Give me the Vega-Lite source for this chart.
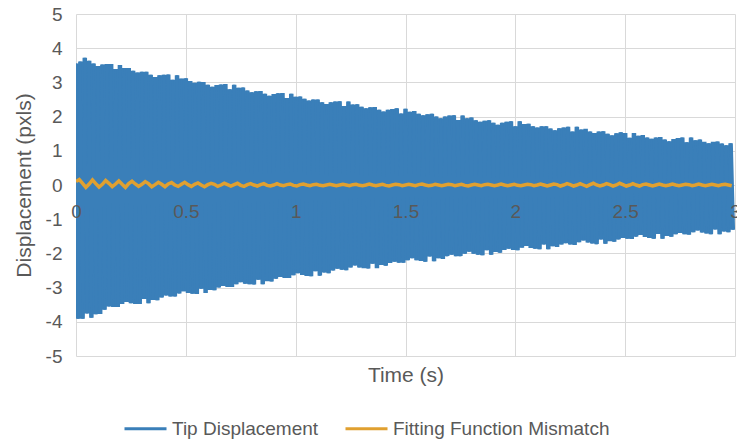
{
"$schema": "https://vega.github.io/schema/vega-lite/v6.json",
"width": 659, "height": 342,
"autosize": "none",
"padding": {"left": 76, "top": 14, "right": 2, "bottom": 87},
"background": "white",
"config": {
 "view": {"stroke": null},
 "font": "Liberation Sans",
 "axis": {"gridColor": "#d9d9d9", "gridWidth": 1, "domain": false, "ticks": false, "labelColor": "#595959", "titleColor": "#595959", "labelFont": "Liberation Sans", "titleFont": "Liberation Sans", "labelFontSize": 19, "titleFontSize": 21, "titleFontWeight": "normal", "labelFlush": false, "labelOverlap": false},
 "legend": {"orient": "none", "legendX": 47, "legendY": 392, "direction": "horizontal", "symbolType": "stroke", "symbolSize": 1764, "symbolStrokeWidth": 3, "labelFont": "Liberation Sans", "labelFontSize": 19, "labelColor": "#595959", "labelLimit": 400, "columnPadding": 20, "labelOffset": 4, "title": null}
},
"datasets": {
"tip": [
{"t":0,"y":3.55},{"t":0.01,"y":-3.91},{"t":0.02,"y":3.61},{"t":0.03,"y":-3.91},{"t":0.04,"y":3.72},{"t":0.05,"y":-3.76},{"t":0.06,"y":3.63},{"t":0.07,"y":-3.88},{"t":0.08,"y":3.55},{"t":0.09,"y":-3.78},
{"t":0.1,"y":3.48},{"t":0.11,"y":-3.77},{"t":0.12,"y":3.52},{"t":0.13,"y":-3.65},{"t":0.14,"y":3.54},{"t":0.15,"y":-3.55},{"t":0.16,"y":3.54},{"t":0.17,"y":-3.57},{"t":0.18,"y":3.39},{"t":0.19,"y":-3.57},
{"t":0.2,"y":3.51},{"t":0.21,"y":-3.48},{"t":0.22,"y":3.42},{"t":0.23,"y":-3.42},{"t":0.24,"y":3.42},{"t":0.25,"y":-3.46},{"t":0.26,"y":3.34},{"t":0.27,"y":-3.48},{"t":0.28,"y":3.29},{"t":0.29,"y":-3.48},
{"t":0.3,"y":3.31},{"t":0.31,"y":-3.33},{"t":0.32,"y":3.31},{"t":0.33,"y":-3.46},{"t":0.34,"y":3.22},{"t":0.35,"y":-3.36},{"t":0.36,"y":3.16},{"t":0.37,"y":-3.37},{"t":0.38,"y":3.21},{"t":0.39,"y":-3.29},
{"t":0.4,"y":3.22},{"t":0.41,"y":-3.23},{"t":0.42,"y":3.23},{"t":0.43,"y":-3.26},{"t":0.44,"y":3.08},{"t":0.45,"y":-3.26},{"t":0.46,"y":3.21},{"t":0.47,"y":-3.17},{"t":0.48,"y":3.11},{"t":0.49,"y":-3.11},
{"t":0.5,"y":3.12},{"t":0.51,"y":-3.16},{"t":0.52,"y":3.04},{"t":0.53,"y":-3.18},{"t":0.54,"y":2.99},{"t":0.55,"y":-3.19},{"t":0.56,"y":3.02},{"t":0.57,"y":-3.03},{"t":0.58,"y":3.01},{"t":0.59,"y":-3.16},
{"t":0.6,"y":2.93},{"t":0.61,"y":-3.07},{"t":0.62,"y":2.87},{"t":0.63,"y":-3.08},{"t":0.64,"y":2.92},{"t":0.65,"y":-3.0},{"t":0.66,"y":2.94},{"t":0.67,"y":-2.95},{"t":0.68,"y":2.95},{"t":0.69,"y":-2.98},
{"t":0.7,"y":2.8},{"t":0.71,"y":-2.98},{"t":0.72,"y":2.93},{"t":0.73,"y":-2.9},{"t":0.74,"y":2.84},{"t":0.75,"y":-2.84},{"t":0.76,"y":2.85},{"t":0.77,"y":-2.89},{"t":0.78,"y":2.76},{"t":0.79,"y":-2.9},
{"t":0.8,"y":2.71},{"t":0.81,"y":-2.91},{"t":0.82,"y":2.74},{"t":0.83,"y":-2.77},{"t":0.84,"y":2.75},{"t":0.85,"y":-2.9},{"t":0.86,"y":2.67},{"t":0.87,"y":-2.81},{"t":0.88,"y":2.61},{"t":0.89,"y":-2.82},
{"t":0.9,"y":2.66},{"t":0.91,"y":-2.74},{"t":0.92,"y":2.68},{"t":0.93,"y":-2.69},{"t":0.94,"y":2.69},{"t":0.95,"y":-2.72},{"t":0.96,"y":2.54},{"t":0.97,"y":-2.72},{"t":0.98,"y":2.67},{"t":0.99,"y":-2.64},
{"t":1.0,"y":2.58},{"t":1.01,"y":-2.58},{"t":1.02,"y":2.59},{"t":1.03,"y":-2.63},{"t":1.04,"y":2.52},{"t":1.05,"y":-2.66},{"t":1.06,"y":2.47},{"t":1.07,"y":-2.67},{"t":1.08,"y":2.5},{"t":1.09,"y":-2.52},
{"t":1.1,"y":2.5},{"t":1.11,"y":-2.65},{"t":1.12,"y":2.42},{"t":1.13,"y":-2.56},{"t":1.14,"y":2.37},{"t":1.15,"y":-2.58},{"t":1.16,"y":2.42},{"t":1.17,"y":-2.5},{"t":1.18,"y":2.44},{"t":1.19,"y":-2.45},
{"t":1.2,"y":2.45},{"t":1.21,"y":-2.48},{"t":1.22,"y":2.31},{"t":1.23,"y":-2.49},{"t":1.24,"y":2.44},{"t":1.25,"y":-2.41},{"t":1.26,"y":2.35},{"t":1.27,"y":-2.35},{"t":1.28,"y":2.36},{"t":1.29,"y":-2.41},
{"t":1.3,"y":2.29},{"t":1.31,"y":-2.43},{"t":1.32,"y":2.24},{"t":1.33,"y":-2.44},{"t":1.34,"y":2.27},{"t":1.35,"y":-2.3},{"t":1.36,"y":2.28},{"t":1.37,"y":-2.43},{"t":1.38,"y":2.2},{"t":1.39,"y":-2.34},
{"t":1.4,"y":2.15},{"t":1.41,"y":-2.36},{"t":1.42,"y":2.2},{"t":1.43,"y":-2.28},{"t":1.44,"y":2.22},{"t":1.45,"y":-2.24},{"t":1.46,"y":2.24},{"t":1.47,"y":-2.27},{"t":1.48,"y":2.09},{"t":1.49,"y":-2.27},
{"t":1.5,"y":2.23},{"t":1.51,"y":-2.2},{"t":1.52,"y":2.14},{"t":1.53,"y":-2.14},{"t":1.54,"y":2.16},{"t":1.55,"y":-2.2},{"t":1.56,"y":2.08},{"t":1.57,"y":-2.22},{"t":1.58,"y":2.04},{"t":1.59,"y":-2.24},
{"t":1.6,"y":2.07},{"t":1.61,"y":-2.09},{"t":1.62,"y":2.08},{"t":1.63,"y":-2.23},{"t":1.64,"y":2.0},{"t":1.65,"y":-2.14},{"t":1.66,"y":1.95},{"t":1.67,"y":-2.16},{"t":1.68,"y":2.0},{"t":1.69,"y":-2.08},
{"t":1.7,"y":2.03},{"t":1.71,"y":-2.04},{"t":1.72,"y":2.04},{"t":1.73,"y":-2.08},{"t":1.74,"y":1.9},{"t":1.75,"y":-2.08},{"t":1.76,"y":2.03},{"t":1.77,"y":-2.01},{"t":1.78,"y":1.95},{"t":1.79,"y":-1.95},
{"t":1.8,"y":1.97},{"t":1.81,"y":-2.01},{"t":1.82,"y":1.89},{"t":1.83,"y":-2.04},{"t":1.84,"y":1.85},{"t":1.85,"y":-2.05},{"t":1.86,"y":1.88},{"t":1.87,"y":-1.91},{"t":1.88,"y":1.89},{"t":1.89,"y":-2.04},
{"t":1.9,"y":1.82},{"t":1.91,"y":-1.96},{"t":1.92,"y":1.76},{"t":1.93,"y":-1.98},{"t":1.94,"y":1.82},{"t":1.95,"y":-1.9},{"t":1.96,"y":1.85},{"t":1.97,"y":-1.86},{"t":1.98,"y":1.86},{"t":1.99,"y":-1.9},
{"t":2.0,"y":1.72},{"t":2.01,"y":-1.91},{"t":2.02,"y":1.86},{"t":2.03,"y":-1.83},{"t":2.04,"y":1.78},{"t":2.05,"y":-1.78},{"t":2.06,"y":1.79},{"t":2.07,"y":-1.84},{"t":2.08,"y":1.72},{"t":2.09,"y":-1.86},
{"t":2.1,"y":1.68},{"t":2.11,"y":-1.88},{"t":2.12,"y":1.72},{"t":2.13,"y":-1.74},{"t":2.14,"y":1.72},{"t":2.15,"y":-1.88},{"t":2.16,"y":1.65},{"t":2.17,"y":-1.79},{"t":2.18,"y":1.6},{"t":2.19,"y":-1.81},
{"t":2.2,"y":1.66},{"t":2.21,"y":-1.74},{"t":2.22,"y":1.68},{"t":2.23,"y":-1.7},{"t":2.24,"y":1.7},{"t":2.25,"y":-1.74},{"t":2.26,"y":1.56},{"t":2.27,"y":-1.75},{"t":2.28,"y":1.7},{"t":2.29,"y":-1.67},
{"t":2.3,"y":1.62},{"t":2.31,"y":-1.62},{"t":2.32,"y":1.64},{"t":2.33,"y":-1.68},{"t":2.34,"y":1.56},{"t":2.35,"y":-1.71},{"t":2.36,"y":1.52},{"t":2.37,"y":-1.73},{"t":2.38,"y":1.56},{"t":2.39,"y":-1.59},
{"t":2.4,"y":1.57},{"t":2.41,"y":-1.72},{"t":2.42,"y":1.5},{"t":2.43,"y":-1.64},{"t":2.44,"y":1.45},{"t":2.45,"y":-1.66},{"t":2.46,"y":1.51},{"t":2.47,"y":-1.59},{"t":2.48,"y":1.54},{"t":2.49,"y":-1.55},
{"t":2.5,"y":1.52},{"t":2.51,"y":-1.57},{"t":2.52,"y":1.38},{"t":2.53,"y":-1.58},{"t":2.54,"y":1.52},{"t":2.55,"y":-1.51},{"t":2.56,"y":1.44},{"t":2.57,"y":-1.46},{"t":2.58,"y":1.46},{"t":2.59,"y":-1.52},
{"t":2.6,"y":1.39},{"t":2.61,"y":-1.55},{"t":2.62,"y":1.35},{"t":2.63,"y":-1.57},{"t":2.64,"y":1.39},{"t":2.65,"y":-1.43},{"t":2.66,"y":1.4},{"t":2.67,"y":-1.57},{"t":2.68,"y":1.33},{"t":2.69,"y":-1.49},
{"t":2.7,"y":1.28},{"t":2.71,"y":-1.51},{"t":2.72,"y":1.34},{"t":2.73,"y":-1.44},{"t":2.74,"y":1.37},{"t":2.75,"y":-1.4},{"t":2.76,"y":1.39},{"t":2.77,"y":-1.44},{"t":2.78,"y":1.25},{"t":2.79,"y":-1.45},
{"t":2.8,"y":1.39},{"t":2.81,"y":-1.38},{"t":2.82,"y":1.31},{"t":2.83,"y":-1.33},{"t":2.84,"y":1.33},{"t":2.85,"y":-1.39},{"t":2.86,"y":1.26},{"t":2.87,"y":-1.42},{"t":2.88,"y":1.22},{"t":2.89,"y":-1.44},
{"t":2.9,"y":1.26},{"t":2.91,"y":-1.3},{"t":2.92,"y":1.27},{"t":2.93,"y":-1.44},{"t":2.94,"y":1.21},{"t":2.95,"y":-1.36},{"t":2.96,"y":1.16},{"t":2.97,"y":-1.38},{"t":2.98,"y":1.22},{"t":2.99,"y":-1.31}
],
"mis": [
{"t":0,"y":0.1},{"t":0.015,"y":0.16},{"t":0.03,"y":0.05},{"t":0.045,"y":-0.07},{"t":0.06,"y":0.03},{"t":0.075,"y":0.15},{"t":0.09,"y":0.04},{"t":0.105,"y":-0.06},{"t":0.12,"y":0.02},{"t":0.135,"y":0.13},
{"t":0.15,"y":0.05},{"t":0.165,"y":-0.05},{"t":0.18,"y":0.03},{"t":0.195,"y":0.12},{"t":0.21,"y":0.02},{"t":0.225,"y":-0.07},{"t":0.24,"y":0.04},{"t":0.255,"y":0.11},{"t":0.27,"y":0.03},{"t":0.285,"y":-0.04},
{"t":0.3,"y":0.02},{"t":0.315,"y":0.1},{"t":0.33,"y":0.04},{"t":0.345,"y":-0.05},{"t":0.36,"y":0.01},{"t":0.375,"y":0.08},{"t":0.39,"y":0.02},{"t":0.405,"y":-0.05},{"t":0.42,"y":0.03},{"t":0.435,"y":0.07},
{"t":0.45,"y":0.0},{"t":0.465,"y":-0.04},{"t":0.48,"y":0.02},{"t":0.495,"y":0.08},{"t":0.51,"y":0.01},{"t":0.525,"y":-0.04},{"t":0.54,"y":0.02},{"t":0.555,"y":0.06},{"t":0.57,"y":0.0},{"t":0.585,"y":-0.05},
{"t":0.6,"y":0.01},{"t":0.615,"y":0.05},{"t":0.63,"y":0.02},{"t":0.645,"y":-0.04},{"t":0.66,"y":0.0},{"t":0.675,"y":0.05},{"t":0.69,"y":0.01},{"t":0.705,"y":-0.03},{"t":0.72,"y":0.01},{"t":0.735,"y":0.05},
{"t":0.75,"y":-0.01},{"t":0.765,"y":-0.04},{"t":0.78,"y":0.01},{"t":0.795,"y":0.04},{"t":0.81,"y":0.0},{"t":0.825,"y":-0.03},{"t":0.84,"y":0.01},{"t":0.855,"y":0.04},{"t":0.87,"y":-0.01},{"t":0.885,"y":-0.03},
{"t":0.9,"y":0.0},{"t":0.915,"y":0.04},{"t":0.93,"y":0.0},{"t":0.945,"y":-0.02},{"t":0.96,"y":0.01},{"t":0.975,"y":0.03},{"t":0.99,"y":-0.01},{"t":1.005,"y":-0.03},{"t":1.02,"y":0.01},{"t":1.035,"y":0.03},
{"t":1.05,"y":0.0},{"t":1.065,"y":-0.02},{"t":1.08,"y":0.01},{"t":1.095,"y":0.02},{"t":1.11,"y":-0.01},{"t":1.125,"y":-0.02},{"t":1.14,"y":0.0},{"t":1.155,"y":0.02},{"t":1.17,"y":0.0},{"t":1.185,"y":-0.02},
{"t":1.2,"y":0.0},{"t":1.215,"y":0.02},{"t":1.23,"y":0.0},{"t":1.245,"y":-0.02},{"t":1.26,"y":0.01},{"t":1.275,"y":0.02},{"t":1.29,"y":-0.01},{"t":1.305,"y":-0.02},{"t":1.32,"y":0.0},{"t":1.335,"y":0.03},
{"t":1.35,"y":0.0},{"t":1.365,"y":-0.02},{"t":1.38,"y":0.0},{"t":1.395,"y":0.02},{"t":1.41,"y":-0.01},{"t":1.425,"y":-0.03},{"t":1.44,"y":0.0},{"t":1.455,"y":0.02},{"t":1.47,"y":0.01},{"t":1.485,"y":-0.02},
{"t":1.5,"y":0.0},{"t":1.515,"y":0.02},{"t":1.53,"y":0.0},{"t":1.545,"y":-0.02},{"t":1.56,"y":0.01},{"t":1.575,"y":0.03},{"t":1.59,"y":0.0},{"t":1.605,"y":-0.02},{"t":1.62,"y":-0.01},{"t":1.635,"y":0.02},
{"t":1.65,"y":0.0},{"t":1.665,"y":-0.02},{"t":1.68,"y":0.0},{"t":1.695,"y":0.02},{"t":1.71,"y":0.01},{"t":1.725,"y":-0.02},{"t":1.74,"y":0.0},{"t":1.755,"y":0.02},{"t":1.77,"y":-0.01},{"t":1.785,"y":-0.03},
{"t":1.8,"y":0.0},{"t":1.815,"y":0.02},{"t":1.83,"y":0.0},{"t":1.845,"y":-0.02},{"t":1.86,"y":0.01},{"t":1.875,"y":0.02},{"t":1.89,"y":0.0},{"t":1.905,"y":-0.02},{"t":1.92,"y":0.0},{"t":1.935,"y":0.03},
{"t":1.95,"y":0.0},{"t":1.965,"y":-0.02},{"t":1.98,"y":0.0},{"t":1.995,"y":0.02},{"t":2.01,"y":-0.01},{"t":2.025,"y":-0.02},{"t":2.04,"y":0.0},{"t":2.055,"y":0.02},{"t":2.07,"y":0.01},{"t":2.085,"y":-0.02},
{"t":2.1,"y":0.0},{"t":2.115,"y":0.03},{"t":2.13,"y":0.0},{"t":2.145,"y":-0.03},{"t":2.16,"y":0.0},{"t":2.175,"y":0.03},{"t":2.19,"y":0.01},{"t":2.205,"y":-0.03},{"t":2.22,"y":0.0},{"t":2.235,"y":0.04},
{"t":2.25,"y":0.01},{"t":2.265,"y":-0.03},{"t":2.28,"y":0.0},{"t":2.295,"y":0.04},{"t":2.31,"y":0.0},{"t":2.325,"y":-0.04},{"t":2.34,"y":0.01},{"t":2.355,"y":0.05},{"t":2.37,"y":0.0},{"t":2.385,"y":-0.03},
{"t":2.4,"y":0.0},{"t":2.415,"y":0.04},{"t":2.43,"y":0.01},{"t":2.445,"y":-0.03},{"t":2.46,"y":0.0},{"t":2.475,"y":0.05},{"t":2.49,"y":0.01},{"t":2.505,"y":-0.03},{"t":2.52,"y":0.0},{"t":2.535,"y":0.04},
{"t":2.55,"y":0.0},{"t":2.565,"y":-0.03},{"t":2.58,"y":0.01},{"t":2.595,"y":0.03},{"t":2.61,"y":0.0},{"t":2.625,"y":-0.03},{"t":2.64,"y":0.0},{"t":2.655,"y":0.03},{"t":2.67,"y":0.0},{"t":2.685,"y":-0.02},
{"t":2.7,"y":0.0},{"t":2.715,"y":0.03},{"t":2.73,"y":0.0},{"t":2.745,"y":-0.02},{"t":2.76,"y":0.0},{"t":2.775,"y":0.02},{"t":2.79,"y":0.01},{"t":2.805,"y":-0.02},{"t":2.82,"y":0.0},{"t":2.835,"y":0.03},
{"t":2.85,"y":0.0},{"t":2.865,"y":-0.02},{"t":2.88,"y":0.0},{"t":2.895,"y":0.02},{"t":2.91,"y":0.0},{"t":2.925,"y":-0.02},{"t":2.94,"y":0.01},{"t":2.955,"y":0.02},{"t":2.97,"y":0.0},{"t":2.985,"y":-0.02}
]
},
"layer": [
 {
  "data": {"name": "tip"},
  "mark": {"type": "line", "strokeWidth": 4.5, "clip": true},
  "encoding": {
   "x": {"field": "t", "type": "quantitative", "scale": {"domain": [0, 3], "nice": false, "zero": false},
         "axis": {"values": [0, 0.5, 1, 1.5, 2, 2.5, 3], "labels": false, "title": "Time (s)", "titleY": 19, "titleBaseline": "middle", "zindex": 0}},
   "y": {"field": "y", "type": "quantitative", "scale": {"domain": [-5, 5], "nice": false, "zero": false},
         "axis": {"values": [-5, -4, -3, -2, -1, 0, 1, 2, 3, 4, 5], "title": "Displacement (pxls)", "labelPadding": 14, "labelOverlap": false, "labelSeparation": 0, "labelBound": false, "labelExpr": "'' + datum.value", "titleX": -52, "titleBaseline": "middle", "zindex": 0}},
   "color": {"datum": "Tip Displacement", "type": "nominal", "scale": {"domain": ["Tip Displacement", "Fitting Function Mismatch"], "range": ["#3a7fb9", "#e0a030"]}, "legend": {"title": null}}
  }
 },
 {
  "data": {"name": "tip"},
  "mark": {"type": "line", "strokeWidth": 2.5, "clip": true},
  "encoding": {
   "x": {"field": "t", "type": "quantitative", "axis": null},
   "y": {"field": "y", "type": "quantitative", "axis": null},
   "color": {"datum": "Tip Displacement", "type": "nominal"}
  }
 },
 {
  "data": {"name": "mis"},
  "mark": {"type": "line", "strokeWidth": 3.5, "clip": true},
  "encoding": {
   "x": {"field": "t", "type": "quantitative",
         "axis": {"values": [0, 0.5, 1, 1.5, 2, 2.5, 3], "grid": false, "title": null, "offset": -171, "labelPadding": 17, "labelExpr": "'' + datum.value", "orient": "bottom", "zindex": 1}},
   "y": {"field": "y", "type": "quantitative", "axis": null},
   "color": {"datum": "Fitting Function Mismatch", "type": "nominal"}
  }
 }
],
"resolve": {"axis": {"x": "independent", "y": "independent"}}
}
